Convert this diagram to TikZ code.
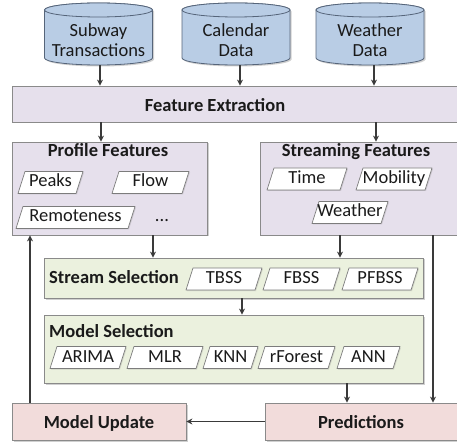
\documentclass[tikz,border=0pt]{standalone}
\usepackage{fontspec}
\setmainfont{Carlito}
\usetikzlibrary{arrows.meta,shadows}
\definecolor{cylblue}{HTML}{B9CDE5}
\definecolor{cylborder}{HTML}{56657A}
\definecolor{lav}{HTML}{E6E0EC}
\definecolor{grn}{HTML}{EBF1DE}
\definecolor{pnk}{HTML}{F2DCDB}
\definecolor{bord}{HTML}{8A8A8A}
\definecolor{arrcol}{HTML}{3A3A3A}
\definecolor{txt}{HTML}{1A1A1A}
\tikzset{
  shd/.style={drop shadow={shadow xshift=1.5pt,shadow yshift=-1.5pt,opacity=0.3,fill=black!60}},
  boxbase/.style={rectangle,draw=bord,line width=0.8pt,inner sep=0pt,shd},
  lavbox/.style={boxbase,fill=lav},
  grnbox/.style={boxbase,fill=grn},
  pnkbox/.style={boxbase,fill=pnk},
  parashape/.style={draw=bord!90!black,line width=0.7pt,fill=white,line join=round,
     drop shadow={shadow xshift=1pt,shadow yshift=-1pt,opacity=0.25}},
  itemtext/.style={font=\fontsize{18.5}{20}\selectfont,text=txt,inner sep=0pt,text height=13pt,text depth=4pt},
  ttl/.style={font=\fontsize{18.5}{20}\selectfont\bfseries,text=txt,inner sep=0pt,anchor=base},
  cyltext/.style={align=center,font=\fontsize{18.5}{20}\selectfont,text=txt,inner sep=0pt,minimum width=108pt,minimum height=49pt},
  cylfill/.style={fill=cylblue,draw=cylborder,line width=0.8pt},
  arr/.style={draw=arrcol,line width=1.2pt,-{Stealth[length=6pt,width=6pt]}},
}
\begin{document}
\begin{tikzpicture}[x=1pt,y=-1pt]
\useasboundingbox (0,0) rectangle (457,443);
\clip (0,0) rectangle (457,443);
\fill[white] (0,0) rectangle (457,443);
% cylinders
\foreach \n/\cx/\txt in {subway/98.5/{Subway\\Transactions},cal/236/{Calendar\\Data},wea/370/{Weather\\Data}}{
  \path[cylfill,shd] (\cx-54,10) -- (\cx-54,58) arc[start angle=180,end angle=0,x radius=54,y radius=7]
     -- (\cx+54,10) arc[start angle=0,end angle=-180,x radius=54,y radius=7] -- cycle;
  \draw[cylfill] (\cx,10) ellipse [x radius=54,y radius=7];
  \node[cyltext] (\n) at (\cx,40.5) {\txt};
}
% feature extraction
\node[lavbox,minimum width=458pt,minimum height=36pt] (fe) at (241,104) {};
\node[ttl] (fetitle) at (215,112) {Feature Extraction};
% profile features
\node[lavbox,minimum width=195pt,minimum height=93pt] (prof) at (109.5,188.5) {};
\node[ttl] (proftitle) at (108,157) {Profile Features};
% streaming features
\node[lavbox,minimum width=210pt,minimum height=93pt] (strf) at (365,188.5) {};
\node[ttl] (strtitle) at (356,157) {Streaming Features};
% stream selection
\node[grnbox,minimum width=379pt,minimum height=40pt] (ss) at (233.5,278) {};
\node[ttl,anchor=base west] (sstitle) at (49,283.5) {Stream Selection};
% model selection
\node[grnbox,minimum width=379pt,minimum height=68pt] (ms) at (233.5,349) {};
\node[ttl,anchor=base west] (mstitle) at (49,337.5) {Model Selection};
% feature items
\foreach \n/\l/\r/\cy/\t in {peaks/18/83/182.5/Peaks, flow/112/189/182.5/Flow, remote/16/135/217.5/Remoteness,
   time/267/347/179/Time, mob/356/432/179/Mobility, weath/312/388/212.5/Weather,
   tbss/186/262/279/TBSS, fbss/263/340/279/FBSS, pfbss/342/418/279/PFBSS,
   arima/50/126/357.5/ARIMA, mlr/127/203/357.5/MLR, knn/203/258/357.5/KNN, rforest/258/335/357.5/rForest, ann/337/400/357.5/ANN}{
  \path[parashape] (\l,\cy+11) -- (\r-7,\cy+11) -- (\r,\cy-11) -- (\l+7,\cy-11) -- cycle;
  \node[itemtext] (\n) at ({(\l+\r)/2},\cy) {\t};
}
\node[itemtext] (dots) at (162,217.5) {...};
% bottom
\node[pnkbox,minimum width=174pt,minimum height=37pt] (mu) at (99,421.5) {};
\node[ttl] (mutitle) at (99,428) {Model Update};
\node[pnkbox,minimum width=205pt,minimum height=37pt] (pred) at (367.5,421.5) {};
\node[ttl] (predtitle) at (361,428) {Predictions};
% coordinates
\coordinate (c1) at (100,0);
\coordinate (c2) at (240,0);
\coordinate (c3) at (374,0);
\coordinate (c4) at (101,0);
\coordinate (c5) at (376,0);
\coordinate (c6) at (153,0);
\coordinate (c7) at (340,0);
\coordinate (c8) at (242,0);
\coordinate (c9) at (347,0);
\coordinate (lfb) at (30,0);
\coordinate (rfb) at (433,0);
% arrows
\draw[arr] (subway.south -| c1) -- (fe.north -| c1);
\draw[arr] (cal.south -| c2) -- (fe.north -| c2);
\draw[arr] (wea.south -| c3) -- (fe.north -| c3);
\draw[arr] (fe.south -| c4) -- (prof.north -| c4);
\draw[arr] (fe.south -| c5) -- (strf.north -| c5);
\draw[arr] (prof.south -| c6) -- (ss.north -| c6);
\draw[arr] (strf.south -| c7) -- (ss.north -| c7);
\draw[arr] (ss.south -| c8) -- (ms.north -| c8);
\draw[arr] (ms.south -| c9) -- (pred.north -| c9);
\draw[arr] (strf.south -| rfb) -- (pred.north -| rfb);
\draw[arr] (pred.west) -- (mu.east);
\draw[arr] (mu.north -| lfb) -- (prof.south -| lfb);
\end{tikzpicture}
\end{document}
